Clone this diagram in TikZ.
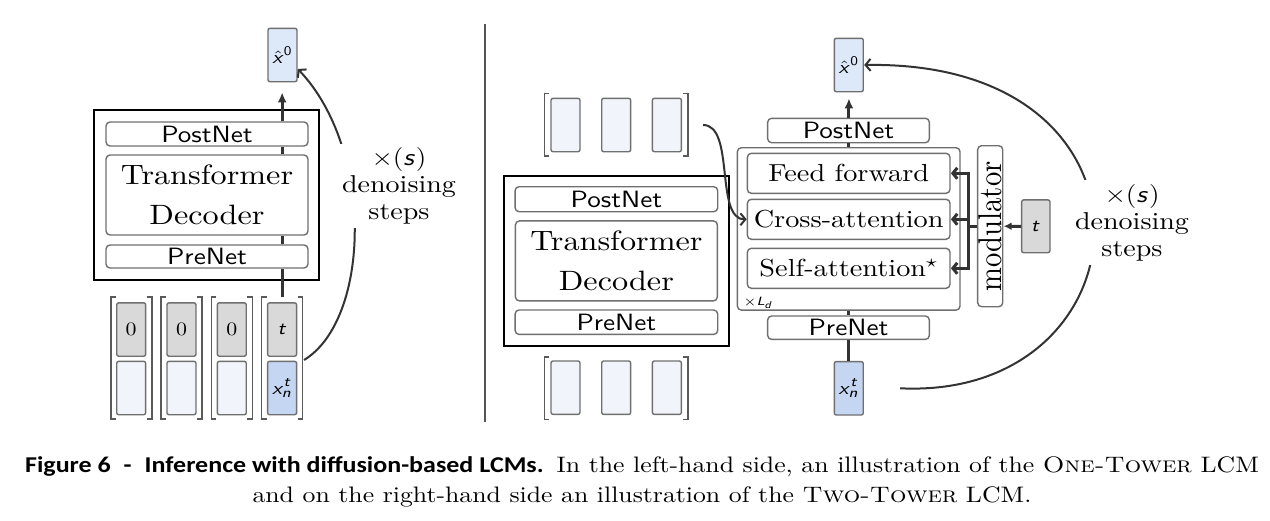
\documentclass[tikz,border=0pt]{standalone}
\usepackage{fontspec}
\setmainfont{lmroman10-regular.otf}[BoldFont=lmroman10-bold.otf, ItalicFont=lmroman10-italic.otf, SmallCapsFont=lmromancaps10-regular.otf]
\setsansfont{lmsans10-regular.otf}[BoldFont=lmsans10-bold.otf, ItalicFont=lmsans10-oblique.otf]
\newfontfamily\capsans{Carlito}
\usetikzlibrary{arrows.meta}
\DeclareMathAlphabet{\mathsfit}{OT1}{cmss}{m}{sl}
\definecolor{boxgray}{HTML}{6F6F6F}
\definecolor{bracketgray}{HTML}{5A5A5A}
\definecolor{linedark}{HTML}{333333}
\definecolor{rulegray}{HTML}{555555}
\definecolor{hatblue}{HTML}{DDE8F9}
\definecolor{noiseblue}{HTML}{C5D6F2}
\definecolor{emptyblue}{HTML}{F1F5FB}
\definecolor{zerogray}{HTML}{D9D9D9}

\begin{document}
\begin{tikzpicture}[x=0.43478pt, y=-0.5pt, xscale=1.15, transform shape,
    box/.style={draw=boxgray, line width=0.7pt, rounded corners=2pt, fill=white, inner sep=0pt},
    netbox/.style={box, minimum height=12pt, font=\sffamily\fontsize{11.8}{12}\selectfont},
    decbox/.style={box, minimum width=87.8pt, minimum height=40pt, align=center, font=\fontsize{14}{20}\selectfont},
    subbox/.style={box, minimum width=88.1pt, minimum height=20pt, font=\fontsize{12.3}{12}\selectfont},
    towerbox/.style={draw=black, line width=0.9pt, fill=white, minimum width=97.8pt, minimum height=85pt},
    vecbox/.style={draw=boxgray, line width=0.7pt, rounded corners=1pt, minimum width=12.6pt, minimum height=26.7pt, inner sep=0pt, font=\fontsize{9.5}{10}\selectfont},
    brack/.style={draw=bracketgray, line width=0.8pt},
    flow/.style={draw=linedark, line width=1.5pt},
    modflow/.style={flow, -{Straight Barb[length=2.2pt,width=5.5pt]}},
    iter/.style={draw=linedark, line width=1pt, -{Straight Barb[length=2.5pt,width=6pt]}},
    stepslabel/.style={align=center, fill=white, inner sep=2pt, font=\fontsize{12.2}{13.5}\selectfont}]
\useasboundingbox (0,0) rectangle (1270,520);

\node[towerbox] (towerL) at (206.5,195) {};
\node[netbox, minimum width=87.8pt] (postL) at (207,134) {PostNet};
\node[decbox] (decL) at (207,195) {Transformer\\Decoder};
\node[netbox, minimum width=87.8pt, minimum height=11.5pt] (preL) at (207,256.5) {PreNet};
\node[vecbox, fill=hatblue] (xhatL) at (282.5,55) {$\hat{\mathsfit{x}}^{\mathsf{0}}$};
\foreach \k in {0,...,3} {
  \pgfmathsetmacro\cx{131.2+50.3*\k}
  \draw[brack] (\cx-15.5,297) -| (\cx-20.5,419) -- (\cx-15.5,419);
  \draw[brack] (\cx+15.5,297) -| (\cx+20.5,419) -- (\cx+15.5,419);
}
\foreach \k in {0,1,2} {
  \node[vecbox, fill=zerogray] (zeroL\k) at (131.2+50.3*\k,329.5) {0};
  \node[vecbox, fill=emptyblue] (emptyL\k) at (131.2+50.3*\k,388) {};
}
\node[vecbox, fill=zerogray] (tL) at (282.1,329.5) {$\mathsfit{t}$};
\node[vecbox, fill=noiseblue] (xnL) at (282.1,388) {$\mathsfit{x}_{\mathsfit{n}}^{\mathsfit{t}}$};

\draw[flow] ([yshift=2.5pt]tL.north) -- (tL |- preL.south);
\draw[flow] (tL |- preL.north) -- (tL |- decL.south);
\draw[flow] (tL |- decL.north) -- (tL |- postL.south);
\draw[flow, -{Latex[length=5pt,width=4.5pt]}, shorten >=5pt] (tL |- postL.north) -- (tL |- xhatL.south);

\coordinate (nL) at (304,360);
\draw[iter] (nL) .. controls +(66,-40) and +(77,81) .. ([yshift=-7pt]xhatL.east);
\node[stepslabel] (stepsL) at (399,186) {$\times(\mathsfit{s})$\\denoising\\steps};

\draw[rulegray, line width=0.7pt] (485,24) -- (485,422);

\node[towerbox] (towerR) at (616.5,260.7) {};
\node[netbox, minimum width=88.1pt, minimum height=12.5pt] (postE) at (616.4,199.2) {PostNet};
\node[decbox] (decE) at (616.4,260.9) {Transformer\\Decoder};
\node[netbox, minimum width=88.1pt, minimum height=12.2pt] (preE) at (616.4,322.2) {PreNet};
\foreach \ya/\yb in {93.3/156, 356.7/419.3} {
  \draw[brack] (549.3,\ya) -| (544.3,\yb) -- (549.3,\yb);
  \draw[brack] (682.7,\ya) -| (687.7,\yb) -- (682.7,\yb);
}
\foreach \k in {0,1,2} {
  \node[vecbox, fill=emptyblue] (ctx\k) at (565.5+50.7*\k,125) {};
  \node[vecbox, fill=emptyblue] (out\k) at (565.5+50.7*\k,387.7) {};
}

\node[box, minimum width=96.8pt, minimum height=81.2pt] (layer) at (848.7,228.9) {};
\node[subbox] (ff) at (848.7,173.3) {Feed forward};
\node[subbox] (ca) at (848.7,219.3) {Cross-attention};
\node[subbox] (sa) at (848.7,268.3) {Self-attention$^\star$};
\node[anchor=west, inner sep=0pt, font=\fontsize{6.5}{7}\selectfont] (ld) at (743,303) {$\times\mathsfit{L}_{\mathsfit{d}}$};
\node[netbox, minimum width=70.3pt, minimum height=12.2pt] (postR) at (848.5,130.5) {PostNet};
\node[netbox, minimum width=70.3pt, minimum height=11.7pt] (preR) at (848.5,327.7) {PreNet};
\node[vecbox, fill=hatblue] (xhatR) at (848.8,65) {$\hat{\mathsfit{x}}^{\mathsf{0}}$};
\node[vecbox, fill=noiseblue] (xnR) at (848.8,388.3) {$\mathsfit{x}_{\mathsfit{n}}^{\mathsfit{t}}$};
\node[box, rotate=90, minimum width=80.5pt, minimum height=10.9pt, font=\fontsize{14.3}{14}\selectfont] (mod) at (990.2,226.2) {modulator};
\node[vecbox, fill=zerogray, minimum width=12.3pt, minimum height=26.4pt] (tR) at (1035.8,226.3) {$\mathsfit{t}$};

\draw[flow] (xnR.north) -- (xnR |- preR.south);
\draw[flow] (xnR |- preR.north) -- (xnR |- layer.south);
\draw[flow] (xnR |- layer.north) -- (xnR |- postR.south);
\draw[flow, -{Latex[length=5pt,width=4.5pt]}, shorten >=3pt] (xnR |- postR.north) -- (xhatR.south);
\draw[flow, -{Latex[length=4pt,width=4pt]}] (tR.west) -- (mod.south);
\foreach \target in {ff,ca,sa}
  \draw[modflow] (mod.north) -- ++(-9,0) |- (\target.east);

\coordinate (ctxout) at (703,125);
\draw[iter] (ctxout) .. controls +(32,0) and +(-32,0) .. (ca.west);
\coordinate (nR) at (900,388.3);
\draw[iter] (nR) .. controls +(250,12) and +(315,-5) .. (xhatR.east);
\node[stepslabel] (stepsR) at (1132,222.5) {$\times(\mathsfit{s})$\\denoising\\steps};

\node[align=center, font=\fontsize{11.2}{15}\selectfont] (caption) at (642,482)
  {{\capsans\bfseries\fontsize{11.3}{15}\selectfont Figure 6\enspace-\enspace Inference with diffusion-based LCMs.}\enspace In the left-hand side, an illustration of the \textsc{One-Tower} LCM\\and on the right-hand side an illustration of the \textsc{Two-Tower} LCM.};
\end{tikzpicture}
\end{document}
